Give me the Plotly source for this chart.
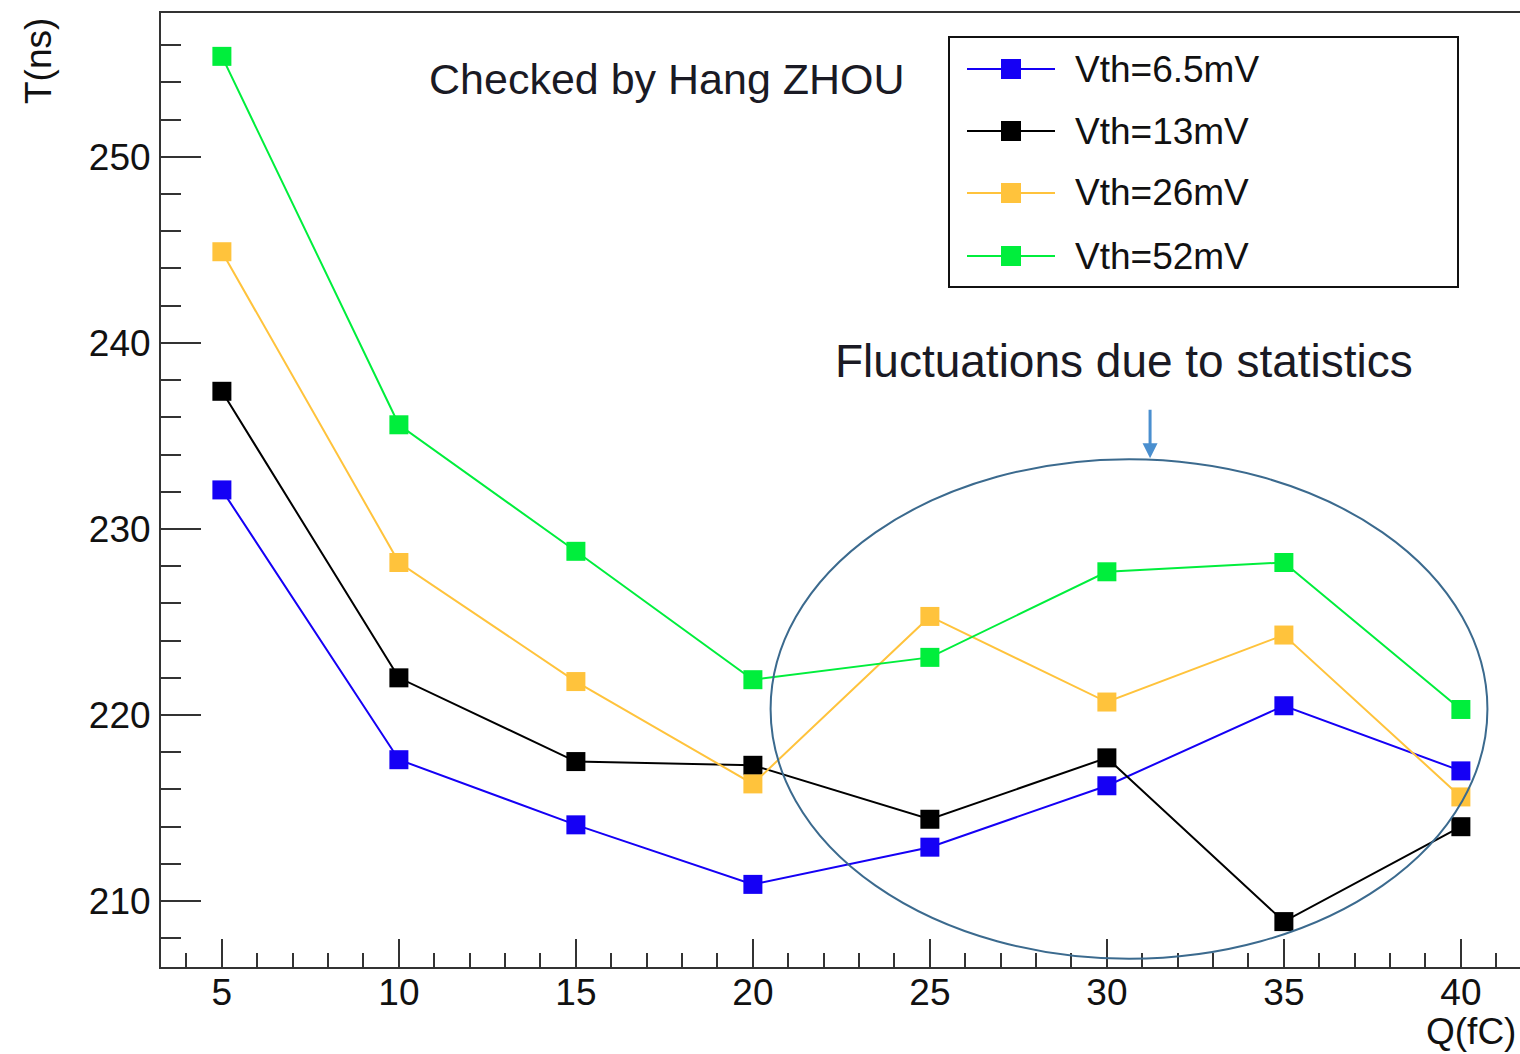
import plotly.graph_objects as go

# Charge injected (fC)
charge_fc = [5, 10, 15, 20, 25, 30, 35, 40]

# Mean time T (ns) for each discriminator threshold
t_vth_6p5 = [232.1, 217.6, 214.1, 210.9, 212.9, 216.2, 220.5, 217.0]
t_vth_13 = [237.4, 222.0, 217.5, 217.3, 214.4, 217.7, 208.9, 214.0]
t_vth_26 = [244.9, 228.2, 221.8, 216.3, 225.3, 220.7, 224.3, 215.6]
t_vth_52 = [255.4, 235.6, 228.8, 221.9, 223.1, 227.7, 228.2, 220.3]

series_names = ["Vth=6.5mV", "Vth=13mV", "Vth=26mV", "Vth=52mV"]
series_values = [t_vth_6p5, t_vth_13, t_vth_26, t_vth_52]
series_colors = ["#1500f5", "#000000", "#ffc33c", "#00ee3c"]

FONT = "Liberation Sans, Arial, Helvetica, sans-serif"
W, H = 1520, 1054
ML, MR, MT, MB = 161, 0, 13, 87
PW, PH = W - ML - MR, H - MT - MB


def px(x):
    """Horizontal page pixel -> paper fraction."""
    return (x - ML) / PW


def py(y):
    """Vertical page pixel (from top) -> paper fraction."""
    return (H - MB - y) / PH


fig = go.Figure()
for name, vals, col in zip(series_names, series_values, series_colors):
    fig.add_trace(go.Scatter(
        x=charge_fc, y=vals, name=name, mode="lines+markers",
        line=dict(color=col, width=2),
        marker=dict(symbol="square", size=19, color=col, line=dict(width=0)),
        showlegend=False,
    ))

shapes = []
annotations = []

# Legend box with line/marker samples
shapes.append(dict(type="rect", xref="paper", yref="paper",
                   x0=px(949), x1=px(1458), y0=py(287), y1=py(37),
                   line=dict(color="#111111", width=2), fillcolor="white", layer="below"))
row_y = [69, 131, 193, 256]
for name, col, ry in zip(series_names, series_colors, row_y):
    shapes.append(dict(type="line", xref="paper", yref="paper",
                       x0=px(967), x1=px(1055), y0=py(ry), y1=py(ry),
                       line=dict(color=col, width=2)))
    shapes.append(dict(type="rect", xref="paper", yref="paper",
                       x0=px(1001), x1=px(1021), y0=py(ry + 10), y1=py(ry - 10),
                       line=dict(width=0), fillcolor=col))
    annotations.append(dict(text=name, xref="paper", yref="paper",
                            x=px(1073), y=py(ry), xanchor="left", yanchor="middle",
                            showarrow=False, font=dict(family=FONT, size=37, color="#111111")))

# Ellipse highlighting the high-charge region
shapes.append(dict(type="circle", xref="x", yref="y",
                   x0=20.5, x1=40.75, y0=206.9, y1=233.75,
                   line=dict(color="#3b6a8e", width=2), layer="above"))

annotations += [
    dict(text="Checked by Hang ZHOU", xref="paper", yref="paper",
         x=px(667), y=py(79), xanchor="center", yanchor="middle", showarrow=False,
         font=dict(family=FONT, size=43, color="#1a1a24")),
    dict(text="Fluctuations due to statistics", xref="paper", yref="paper",
         x=px(1124), y=py(361), xanchor="center", yanchor="middle", showarrow=False,
         font=dict(family=FONT, size=46, color="#1a1a24")),
    dict(text="", xref="x", yref="y", x=31.22, y=233.8, ax=0, ay=-50,
         showarrow=True, arrowhead=2, arrowsize=1, arrowwidth=3, arrowcolor="#4a8fcf"),
    dict(text="T(ns)", xref="paper", yref="paper", x=px(38), y=py(16),
         xanchor="center", yanchor="top", textangle=-90, showarrow=False,
         font=dict(family=FONT, size=37, color="#111111")),
    dict(text="Q(fC)", xref="paper", yref="paper", x=px(1518), y=py(1031),
         xanchor="right", yanchor="middle", showarrow=False,
         font=dict(family=FONT, size=37, color="#111111")),
]

axis_common = dict(
    showgrid=False, zeroline=False, showline=True, linecolor="#333333", linewidth=2,
    ticks="inside", tickcolor="#333333", tickwidth=2,
    tickfont=dict(family=FONT, size=37, color="#111111"),
)

fig.update_layout(
    width=W, height=H,
    margin=dict(l=ML, r=MR, t=MT, b=MB),
    paper_bgcolor="white", plot_bgcolor="white",
    xaxis=dict(range=[3.28, 41.67], tickmode="linear", tick0=5, dtick=5, ticklen=28,
               mirror=True, ticklabelstandoff=-8,
               minor=dict(tickmode="linear", tick0=0, dtick=1, ticklen=14,
                          tickcolor="#333333", tickwidth=2, ticks="inside"),
               **axis_common),
    yaxis=dict(range=[206.46, 257.73], tickmode="linear", tick0=200, dtick=10, ticklen=40,
               ticklabelstandoff=1,
               minor=dict(tickmode="linear", tick0=200, dtick=2, ticklen=20,
                          tickcolor="#333333", tickwidth=2, ticks="inside"),
               **axis_common),
    shapes=shapes,
    annotations=annotations,
)

fig.write_html("out.html")
